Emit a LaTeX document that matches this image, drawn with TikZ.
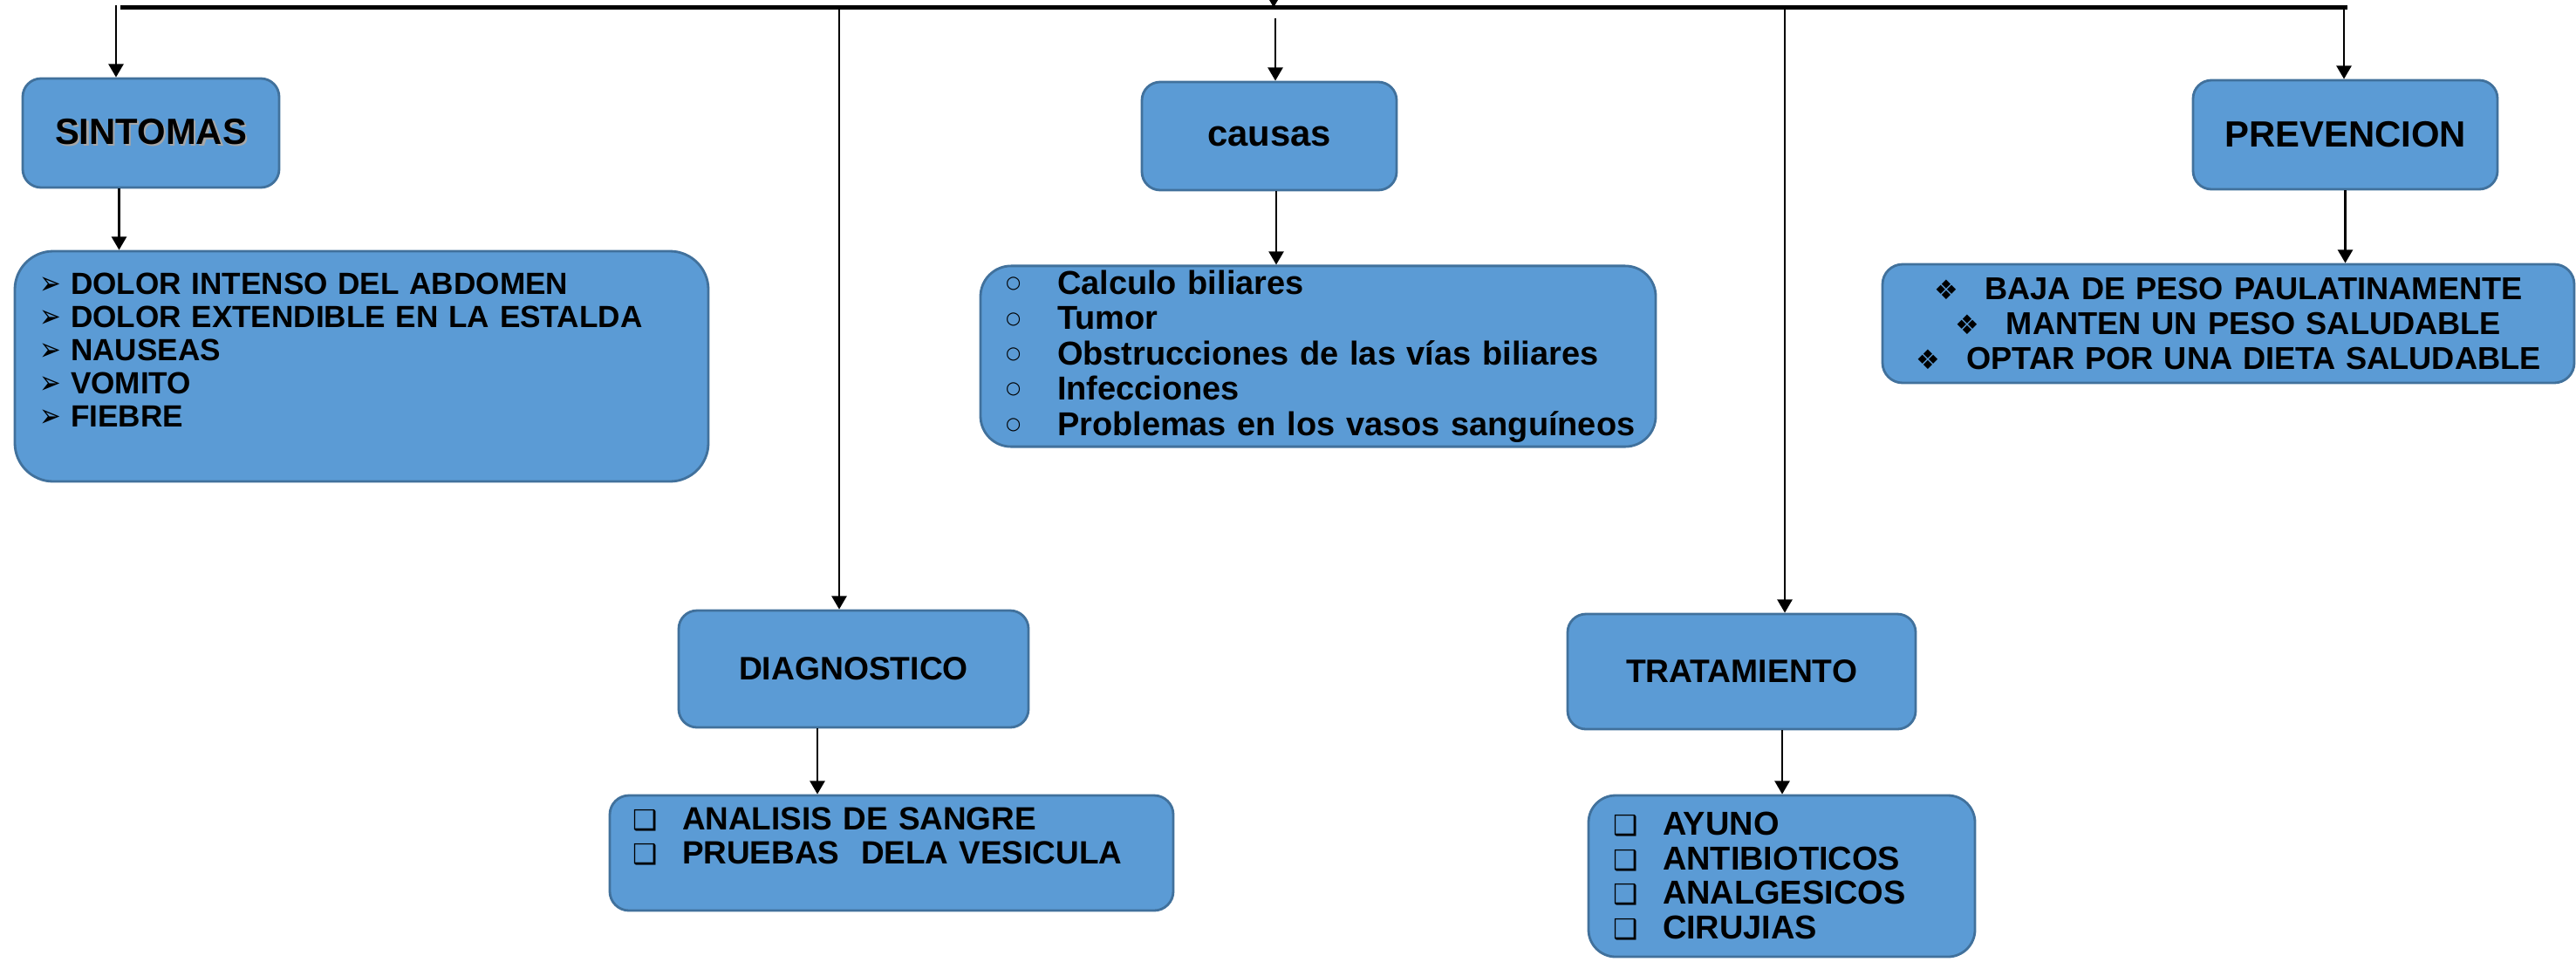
\documentclass[tikz,border=0pt]{standalone}
\usepackage{fontspec}
\setmainfont{Liberation Sans}
\newfontfamily\simbolos{DejaVu Sans}
\usetikzlibrary{arrows.meta}
\definecolor{azul}{HTML}{5B9BD5}
\definecolor{borde}{HTML}{41719C}
\newcommand{\vineta}[3]{\makebox[#1][l]{\mdseries#2}\mbox{#3}}
\newcommand{\sombra}[1]{\makebox[0pt][l]{\hspace{0.6pt}\raisebox{-0.6pt}{\color{black!35}#1}}#1}
\newcommand{\flechita}{\scalebox{0.8}[1]{\simbolos\fontsize{10.5}{10.5}\selectfont ➢}}
\newcommand{\circulo}{\raisebox{1.9pt}{\simbolos\fontsize{5.6}{6}\selectfont ○}}
\newcommand{\rombos}{{\simbolos\fontsize{8.8}{9}\selectfont ❖}}
\newcommand{\cuadro}{{\simbolos\fontsize{9}{9}\selectfont ❑}}

\begin{document}
\begin{tikzpicture}[
    flecha/.style={-{Triangle[length=4.3pt,width=4.8pt]},line width=0.75pt},
    barra/.style={line width=1.4pt}]
\useasboundingbox (0,0) rectangle (29.53,-11.02);

\begin{scope}[every node/.style={draw=borde,fill=azul,line width=0.8pt,font=\bfseries,rounded corners=0.21cm}]
    % titulos
    \node[minimum width=2.94cm,minimum height=1.25cm,font=\fontsize{11.9}{14}\selectfont\bfseries] (sintomas) at (1.73,-1.525) {\sombra{SINTOMAS}};
    \node[minimum width=2.92cm,minimum height=1.24cm,font=\fontsize{11.9}{14}\selectfont\bfseries] (causas) at (14.55,-1.56) {causas};
    \node[minimum width=3.49cm,minimum height=1.25cm,font=\fontsize{11.9}{14}\selectfont\bfseries] (prevencion) at (26.885,-1.545) {PREVENCION};
    \node[minimum width=4.01cm,minimum height=1.34cm,font=\fontsize{10.6}{13}\selectfont\bfseries] (diagnostico) at (9.785,-7.67) {DIAGNOSTICO};
    \node[minimum width=3.99cm,minimum height=1.32cm,font=\fontsize{10.6}{13}\selectfont\bfseries] (tratamiento) at (19.965,-7.70) {TRATAMIENTO};

    % listas
    \node[text width=7.39cm,inner xsep=0.28cm,inner ysep=0.05cm,minimum height=2.64cm,align=left,rounded corners=0.44cm,
          font=\fontsize{10}{10.8}\selectfont\bfseries] (lsintomas) at (4.145,-4.20) {
        \vineta{0.36cm}{\flechita}{DOLOR INTENSO DEL ABDOMEN}\\
        \vineta{0.36cm}{\flechita}{DOLOR EXTENDIBLE EN LA ESTALDA}\\
        \vineta{0.36cm}{\flechita}{NAUSEAS}\\
        \vineta{0.36cm}{\flechita}{VOMITO}\\
        \vineta{0.36cm}{\flechita}{FIEBRE}\\
        \mbox{}};
    \node[text width=7.16cm,inner xsep=0.29cm,inner ysep=0.05cm,minimum height=2.07cm,align=left,rounded corners=0.35cm,
          font=\fontsize{10.8}{11.5}\selectfont\bfseries] (lcausas) at (15.11,-4.085) {
        \vineta{0.59cm}{\circulo}{Calculo biliares}\\
        \vineta{0.59cm}{\circulo}{Tumor}\\
        \vineta{0.59cm}{\circulo}{Obstrucciones de las vías biliares}\\
        \vineta{0.59cm}{\circulo}{Infecciones}\\
        \vineta{0.59cm}{\circulo}{Problemas en los vasos sanguíneos}};
    \node[text width=7.5cm,inner xsep=0.215cm,inner ysep=0.05cm,minimum height=1.36cm,align=center,rounded corners=0.23cm,
          font=\fontsize{10.3}{11.4}\selectfont\bfseries] (lprevencion) at (25.545,-3.71) {
        \vineta{0.58cm}{\rombos}{BAJA DE PESO PAULATINAMENTE}\\
        \vineta{0.58cm}{\rombos}{MANTEN UN PESO SALUDABLE}\\
        \vineta{0.58cm}{\rombos}{OPTAR POR UNA DIETA SALUDABLE}};
    \node[text width=5.94cm,inner xsep=0.26cm,inner ysep=0.05cm,minimum height=1.32cm,align=left,rounded corners=0.22cm,
          font=\fontsize{10.5}{11.1}\selectfont\bfseries] (ldiagnostico) at (10.22,-9.78) {
        \vineta{0.57cm}{\cuadro}{ANALISIS DE SANGRE}\\
        \vineta{0.57cm}{\cuadro}{PRUEBAS\ \ DELA VESICULA}\\
        \mbox{}};
    \node[text width=3.87cm,inner xsep=0.28cm,inner ysep=0.05cm,minimum height=1.85cm,align=left,rounded corners=0.31cm,
          font=\fontsize{10.8}{11.2}\selectfont\bfseries] (ltratamiento) at (20.425,-10.045) {
        \vineta{0.57cm}{\cuadro}{AYUNO}\\
        \vineta{0.57cm}{\cuadro}{ANTIBIOTICOS}\\
        \vineta{0.57cm}{\cuadro}{ANALGESICOS}\\
        \vineta{0.57cm}{\cuadro}{CIRUJIAS}};
\end{scope}

% barra superior
\coordinate (barraizq) at (1.38,-0.085);
\coordinate (barrader) at (26.91,-0.085);
\coordinate (arriba) at (14.60,0.5);
\coordinate (c1) at (1.33,-0.06);
\coordinate (c2) at (9.62,-0.06);
\coordinate (c3) at (14.62,-0.21);
\coordinate (c4) at (20.46,-0.06);
\coordinate (c5) at (26.87,-0.06);

\begin{scope}
    \draw[barra] (barraizq) -- (barrader);
    \draw[flecha] (arriba) -- (arriba |- barraizq);
    \draw[flecha] (c1) -- (c1 |- sintomas.north);
    \draw[flecha] (c2) -- (c2 |- diagnostico.north);
    \draw[flecha] (c3) -- (c3 |- causas.north);
    \draw[flecha] (c4) -- (c4 |- tratamiento.north);
    \draw[flecha] (c5) -- (c5 |- prevencion.north);

    \draw[flecha] ([xshift=-3.65mm]sintomas.south) -- ([xshift=-3.65mm]sintomas.south |- lsintomas.north);
    \draw[flecha] ([xshift=0.8mm]causas.south) -- ([xshift=0.8mm]causas.south |- lcausas.north);
    \draw[flecha] (prevencion.south) -- (prevencion.south |- lprevencion.north);
    \draw[flecha] ([xshift=-4.15mm]diagnostico.south) -- ([xshift=-4.15mm]diagnostico.south |- ldiagnostico.north);
    \draw[flecha] ([xshift=4.65mm]tratamiento.south) -- ([xshift=4.65mm]tratamiento.south |- ltratamiento.north);
\end{scope}
\end{tikzpicture}
\end{document}
